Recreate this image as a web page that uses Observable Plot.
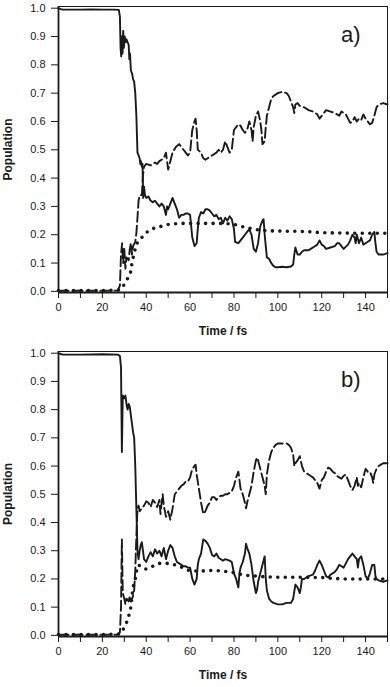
<!DOCTYPE html>
<html><head><meta charset="utf-8">
<script src="https://cdn.jsdelivr.net/npm/d3@7"></script>
<script src="https://cdn.jsdelivr.net/npm/@observablehq/plot@0.6"></script>
<style>
body{margin:0;background:#fff;}
#chart svg{display:block;}
g[aria-label="x-axis label"] text, g[aria-label="y-axis label"] text {font-weight:bold;font-size:12px;}
</style></head><body><div id="chart"></div>
<script>
const xDomain = [0, 150];
const yDomain = [-0.004, 1.006];
const xTicks = [0,10,20,30,40,50,60,70,80,90,100,110,120,130,140,150];
const xLabels = [0,20,40,60,80,100,120,140];
const yTicks = [0,0.1,0.2,0.3,0.4,0.5,0.6,0.7,0.8,0.9,1.0];
const panelTags = ["a)", "b)"];

const aSolid = [[0,1.0],[1,0.997],[2,0.995],[5,0.995],[10,0.995],[15,0.996],[20,0.995],[25,0.995],[27.5,0.994],[28,0.97],[28.3,0.86],[28.6,0.83],[28.9,0.9],[29.2,0.84],[29.5,0.92],[29.8,0.86],[30.2,0.9],[30.6,0.88],[31,0.89],[31.5,0.88],[32,0.87],[32.3,0.82],[32.6,0.84],[33,0.78],[33.5,0.77],[34,0.75],[34.5,0.74],[35,0.70],[35.5,0.62],[36,0.49],[36.5,0.48],[37,0.47],[37.3,0.45],[37.6,0.46],[38,0.44],[38.3,0.45],[38.6,0.33],[39,0.37],[39.4,0.34],[40,0.33],[41,0.335],[42,0.32],[43,0.315],[44,0.32],[45,0.31],[46,0.30],[47,0.31],[48,0.30],[49,0.27],[49.5,0.30],[50,0.29],[51,0.31],[52,0.33],[53,0.31],[54,0.29],[55,0.26],[56,0.27],[57,0.27],[58,0.275],[59,0.275],[60,0.27],[60.5,0.23],[61,0.19],[62,0.16],[63,0.17],[63.5,0.22],[64,0.26],[65,0.28],[66,0.275],[67,0.29],[68,0.29],[69,0.285],[70,0.275],[71,0.265],[72,0.27],[73,0.255],[74,0.26],[75,0.24],[76,0.26],[77,0.25],[78,0.265],[79,0.255],[80,0.22],[80.5,0.175],[82,0.17],[83,0.18],[84,0.19],[85,0.2],[86,0.21],[87,0.22],[88,0.2],[89,0.15],[90,0.14],[91,0.17],[92,0.23],[93,0.25],[93.5,0.255],[94,0.2],[94.5,0.16],[95,0.12],[96,0.115],[97,0.1],[98,0.09],[99,0.085],[100,0.085],[102,0.087],[104,0.085],[106,0.088],[107,0.095],[107.5,0.13],[108,0.155],[109,0.13],[110,0.13],[111,0.14],[112,0.145],[114,0.145],[115,0.15],[116,0.155],[118,0.165],[119,0.18],[120,0.165],[121,0.16],[122,0.15],[124,0.155],[126,0.16],[127,0.17],[128,0.17],[129,0.16],[130,0.15],[132,0.165],[133,0.18],[134,0.2],[135,0.19],[135.5,0.17],[136,0.2],[137,0.17],[138,0.19],[139,0.165],[140,0.17],[141,0.175],[142,0.18],[143,0.2],[144,0.21],[144.5,0.17],[145,0.14],[146,0.13],[148,0.13],[150,0.135]];

const aDash = [[0,0.002],[10,0.002],[20,0.002],[27,0.003],[28,0.02],[28.5,0.13],[29,0.17],[29.5,0.1],[30,0.15],[30.5,0.08],[31,0.12],[32,0.11],[32.5,0.15],[33,0.17],[33.5,0.13],[34,0.16],[35,0.175],[35.5,0.205],[36,0.26],[36.5,0.32],[37,0.34],[38,0.34],[38.5,0.41],[39,0.44],[40,0.45],[42,0.445],[44,0.455],[45,0.45],[46,0.46],[47,0.465],[48,0.47],[49,0.49],[50,0.43],[51,0.46],[52,0.49],[53.5,0.51],[55,0.52],[56,0.51],[57,0.5],[58,0.49],[59,0.48],[60,0.49],[61,0.57],[62,0.6],[62.5,0.61],[63,0.57],[63.5,0.5],[65,0.49],[66,0.47],[67,0.465],[68,0.47],[70,0.48],[72,0.49],[73,0.5],[74,0.49],[75,0.5],[76,0.53],[77,0.51],[78,0.49],[79,0.5],[80,0.57],[81,0.58],[82,0.59],[83,0.585],[84,0.57],[85,0.56],[86,0.57],[87,0.6],[88,0.57],[88.5,0.53],[89,0.58],[90,0.62],[91,0.635],[92,0.6],[92.5,0.57],[93,0.52],[94,0.53],[94.5,0.58],[95,0.62],[96,0.65],[97,0.68],[98,0.69],[100,0.7],[102,0.705],[104,0.7],[105,0.69],[106,0.67],[107,0.65],[107.5,0.63],[108,0.66],[109,0.665],[110,0.655],[112,0.65],[114,0.64],[116,0.635],[118,0.625],[119,0.61],[120,0.62],[122,0.64],[124,0.635],[126,0.63],[128,0.62],[129,0.635],[131,0.625],[132,0.61],[133,0.595],[134,0.6],[135,0.615],[136,0.6],[137,0.61],[138,0.605],[139,0.625],[140,0.61],[141,0.6],[142,0.59],[143,0.595],[144,0.62],[145,0.65],[146,0.66],[148,0.665],[150,0.66]];

const aDot = [[0,0.003],[10,0.003],[20,0.003],[28,0.005],[29,0.012],[30,0.025],[31.5,0.045],[32.7,0.06],[33.5,0.1],[34.5,0.135],[35.5,0.165],[36.5,0.18],[38,0.19],[39.5,0.205],[41.5,0.215],[44,0.225],[47,0.23],[50,0.236],[55,0.24],[60,0.24],[65,0.24],[70,0.24],[75,0.24],[80,0.237],[83,0.23],[86,0.225],[89,0.22],[92,0.216],[95,0.214],[100,0.213],[110,0.212],[115,0.21],[120,0.207],[130,0.206],[140,0.205],[150,0.205]];

const bSolid = [[0,1.0],[1,0.997],[2,0.995],[10,0.995],[20,0.996],[27,0.995],[28,0.99],[28.5,0.95],[28.9,0.65],[29.3,0.85],[30,0.84],[30.5,0.85],[31,0.82],[31.5,0.8],[32,0.82],[32.5,0.81],[33,0.78],[34,0.72],[34.5,0.7],[35,0.6],[35.5,0.45],[36,0.3],[36.5,0.27],[37,0.3],[37.5,0.32],[38,0.33],[38.5,0.3],[39,0.27],[40,0.26],[41,0.28],[42,0.295],[43,0.28],[44,0.305],[45,0.29],[46,0.3],[47,0.28],[48,0.31],[49,0.27],[50,0.3],[51,0.32],[52,0.31],[53,0.28],[54,0.26],[55,0.255],[56,0.25],[57,0.245],[58,0.245],[59,0.24],[60,0.24],[61,0.2],[62,0.18],[63,0.2],[63.5,0.25],[64,0.27],[65,0.29],[66,0.34],[67,0.335],[68,0.325],[69,0.31],[70,0.285],[71,0.28],[72,0.29],[73,0.275],[74,0.27],[75,0.265],[76,0.27],[78,0.265],[79,0.26],[80,0.22],[81,0.2],[82,0.17],[82.5,0.22],[83,0.24],[84,0.26],[85,0.29],[85.5,0.325],[86,0.31],[87,0.29],[88,0.25],[89,0.19],[90,0.15],[90.5,0.16],[91,0.19],[92,0.22],[93,0.25],[94,0.28],[94.5,0.2],[95,0.16],[96,0.13],[97,0.12],[98,0.115],[100,0.11],[102,0.11],[104,0.115],[106,0.115],[107,0.13],[108,0.18],[109,0.17],[110,0.15],[110.5,0.17],[111,0.2],[112,0.2],[113,0.205],[114,0.21],[116,0.215],[117,0.23],[118,0.25],[119,0.265],[120,0.25],[121,0.23],[122,0.21],[123,0.205],[124,0.215],[126,0.225],[127,0.235],[128,0.25],[129,0.245],[130,0.24],[131,0.255],[132,0.27],[133,0.28],[134,0.29],[135,0.28],[136,0.27],[136.5,0.24],[137,0.27],[138,0.28],[139,0.25],[140,0.21],[141,0.2],[142,0.22],[143,0.25],[144,0.25],[144.5,0.21],[145,0.2],[146,0.195],[148,0.19],[150,0.195]];

const bDash = [[0,0.002],[10,0.002],[20,0.002],[27,0.003],[28,0.01],[28.5,0.1],[28.9,0.34],[29.3,0.15],[30,0.13],[30.5,0.11],[31,0.13],[32,0.12],[32.5,0.14],[33,0.12],[34,0.14],[34.5,0.16],[35,0.23],[35.5,0.35],[36,0.45],[36.5,0.46],[37,0.44],[38,0.45],[39,0.46],[40,0.475],[41,0.47],[42,0.455],[43,0.48],[44,0.47],[45,0.455],[46,0.48],[46.5,0.43],[47,0.47],[47.5,0.5],[48,0.46],[49,0.42],[50,0.44],[51,0.41],[52,0.45],[53,0.5],[54,0.51],[55,0.52],[56,0.53],[57,0.535],[58,0.545],[59,0.545],[60,0.56],[61,0.59],[62,0.6],[62.5,0.605],[63,0.57],[64,0.52],[65,0.47],[66,0.43],[67,0.44],[68,0.46],[69,0.47],[70,0.49],[71,0.49],[72,0.48],[73,0.49],[74,0.495],[75,0.495],[76,0.5],[77,0.5],[78,0.505],[79,0.51],[80,0.53],[81,0.56],[82,0.58],[82.5,0.55],[83,0.52],[84,0.5],[85,0.47],[85.5,0.45],[86,0.47],[87,0.5],[88,0.53],[89,0.58],[90,0.62],[90.5,0.63],[91,0.62],[92,0.59],[93,0.56],[94,0.53],[94.5,0.5],[95,0.57],[96,0.62],[97,0.65],[98,0.665],[99,0.675],[100,0.68],[102,0.68],[104,0.68],[105,0.675],[106,0.665],[107,0.64],[107.5,0.6],[108,0.61],[109,0.62],[110,0.635],[111,0.6],[112,0.58],[113,0.575],[114,0.57],[115,0.565],[116,0.56],[117,0.55],[118,0.54],[119,0.52],[120,0.55],[121,0.56],[122,0.58],[123,0.595],[124,0.59],[125,0.58],[126,0.575],[127,0.565],[128,0.56],[129,0.555],[130,0.565],[131,0.57],[132,0.55],[133,0.53],[134,0.515],[135,0.53],[136,0.56],[136.5,0.53],[137,0.54],[138,0.525],[139,0.56],[140,0.59],[141,0.58],[142,0.58],[143,0.56],[143.5,0.54],[144,0.57],[145,0.59],[146,0.6],[147,0.605],[148,0.61],[150,0.61]];

const bDot = [[0,0.003],[10,0.003],[20,0.003],[28,0.005],[29,0.012],[30,0.03],[31,0.045],[32,0.068],[33,0.1],[33.5,0.14],[34,0.17],[35,0.2],[35.5,0.226],[36.5,0.25],[38,0.24],[40,0.235],[43,0.245],[46,0.255],[50,0.255],[53,0.25],[55,0.245],[58,0.235],[60,0.228],[65,0.228],[70,0.23],[75,0.228],[80,0.222],[85,0.213],[90,0.21],[95,0.207],[100,0.206],[110,0.206],[120,0.205],[125,0.202],[130,0.2],[140,0.2],[150,0.2]];

const ink = "#1a1a1a";
function panel(solid, dash, dot, tag, h, mt, mb) {
  const X = d => d[0], Y = d => d[1];
  return Plot.plot({
    width: 390, height: h,
    marginLeft: 58, marginRight: 3, marginTop: mt, marginBottom: mb,
    style: {fontFamily: "'Liberation Sans', Arial, sans-serif", fontSize: "11px", color: ink, background: "#fff", overflow: "visible"},
    x: {domain: xDomain, ticks: xTicks, tickFormat: d => xLabels.includes(d) ? String(d) : "", tickSize: 6, tickPadding: 5,
        label: "Time / fs", labelAnchor: "center", labelOffset: 42, labelArrow: "none"},
    y: {domain: yDomain, ticks: yTicks, tickFormat: d3.format(".1f"), tickSize: 7, tickPadding: 6,
        label: "Population", labelAnchor: "center", labelOffset: 55, labelArrow: "none"},
    marks: [
      Plot.frame({stroke: ink, strokeWidth: 1}),
      Plot.ruleX([xDomain[0]], {stroke: ink, strokeWidth: 1.8}),
      Plot.ruleY([yDomain[0]], {stroke: ink, strokeWidth: 1.8}),
      Plot.line(dot, {x: X, y: Y, stroke: ink, strokeWidth: 3.6, strokeDasharray: "0,7.5", strokeLinecap: "round"}),
      Plot.line(dash, {x: X, y: Y, stroke: ink, strokeWidth: 1.9, strokeDasharray: "10,4"}),
      Plot.line(solid, {x: X, y: Y, stroke: ink, strokeWidth: 1.9}),
      Plot.text([tag], {frameAnchor: "top-right", text: d => d, dx: -27, dy: 28, fontSize: 22, textAnchor: "end", lineAnchor: "middle", fill: ink})
    ]
  });
}
const root = document.getElementById("chart");
root.append(panel(aSolid, aDash, aDot, panelTags[0], 340, 6, 48));
root.append(panel(bSolid, bDash, bDot, panelTags[1], 347, 11, 51));
</script></body></html>
